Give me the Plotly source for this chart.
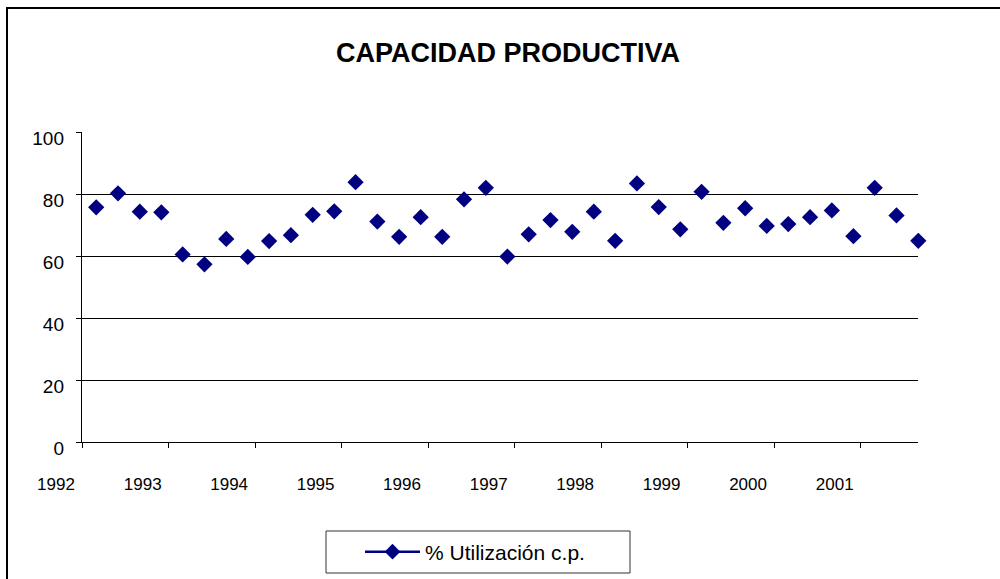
import plotly.graph_objects as go
import pandas as pd

# ---------------- data ----------------
periods = [
    "1992-03-01", "1992-06-01", "1992-09-01", "1992-12-01",
    "1993-03-01", "1993-06-01", "1993-09-01", "1993-12-01",
    "1994-03-01", "1994-06-01", "1994-09-01", "1994-12-01",
    "1995-03-01", "1995-06-01", "1995-09-01", "1995-12-01",
    "1996-03-01", "1996-06-01", "1996-09-01", "1996-12-01",
    "1997-03-01", "1997-06-01", "1997-09-01", "1997-12-01",
    "1998-03-01", "1998-06-01", "1998-09-01", "1998-12-01",
    "1999-03-01", "1999-06-01", "1999-09-01", "1999-12-01",
    "2000-03-01", "2000-06-01", "2000-09-01", "2000-12-01",
    "2001-03-01", "2001-06-01", "2001-09-01",
]
utilizacion = [
    75.8, 80.3, 74.4, 74.2,
    60.6, 57.4, 65.6, 59.8,
    64.9, 66.8, 73.4, 74.5,
    83.9, 71.2, 66.3, 72.6,
    66.3, 78.4, 82.1, 59.9,
    67.1, 71.7, 67.9, 74.4,
    65.0, 83.5, 75.9, 68.7,
    80.8, 70.8, 75.5, 69.8,
    70.4, 72.6, 74.8, 66.5,
    82.1, 73.2, 65.0,
]
year_ticks = ["1992", "1993", "1994", "1995", "1996", "1997", "1998", "1999", "2000", "2001"]
y_ticks = [0, 20, 40, 60, 80, 100]
grid_vals = [20, 40, 60, 80]
series_name = "% Utilización c.p."
title_text = "CAPACIDAD PRODUCTIVA"

# ---------------- layout geometry ----------------
W, H = 1000, 579
px_left, px_right = 82.0, 918.3
px_top, px_bottom = 132.3, 442.3
x_start = pd.Timestamp("1992-01-01")
x_end = pd.Timestamp("2001-09-01")
per_px = (x_end - x_start) / (px_right - px_left)
ext_start = x_start - per_px * px_left
label_shift = per_px * 26


def fmt(ts):
    return ts.strftime("%Y-%m-%d %H:%M:%S")


tick_dates = [fmt(pd.Timestamp(f"{y}-01-01")) for y in year_ticks]
label_dates = [fmt(pd.Timestamp(f"{y}-01-01") - label_shift) for y in year_ticks]

xdom = [px_left / W, px_right / W]
ydom = [1 - px_bottom / H, 1 - px_top / H]
lab_off = 6 / H
ydom_lab = [ydom[0] - lab_off, ydom[1] - lab_off]

NAVY = "#000080"
FONT = "Liberation Sans, Arial, sans-serif"
CLEAR = "rgba(0,0,0,0)"

fig = go.Figure()
fig.add_trace(go.Scatter(
    x=periods, y=utilizacion, mode="markers", name=series_name,
    marker=dict(symbol="diamond", size=12.5, color=NAVY),
    showlegend=False, xaxis="x", yaxis="y", cliponaxis=False,
))
# helper (empty) trace so the tick-mark axis is rendered
fig.add_trace(go.Scatter(
    x=[None], y=[None], mode="markers", showlegend=False,
    hoverinfo="skip", xaxis="x", yaxis="y2",
))
# legend entry (Excel style: line + marker)
fig.add_trace(go.Scatter(
    x=[None], y=[None], mode="lines+markers", name=series_name,
    line=dict(color=NAVY, width=2.5),
    marker=dict(symbol="diamond", size=12, color=NAVY),
    xaxis="x2", yaxis="y3", showlegend=True,
))

fig.update_layout(
    width=W, height=H,
    margin=dict(l=0, r=0, t=0, b=0, autoexpand=False),
    paper_bgcolor="white", plot_bgcolor=CLEAR,
    font=dict(family=FONT, color="black"),
    title=dict(text="<b>" + title_text + "</b>", x=0.508, xanchor="center",
               y=1 - 53 / H, yanchor="middle",
               font=dict(size=27, family=FONT, color="black")),
    showlegend=True,
    legend=dict(orientation="h", x=360 / W, xanchor="left",
                y=1 - 552 / H, yanchor="middle",
                borderwidth=0, bgcolor=CLEAR,
                font=dict(size=21, family=FONT, color="black"),
                itemwidth=55),
    xaxis=dict(domain=xdom, type="date", range=[fmt(x_start), fmt(x_end)],
               anchor="y", tickmode="array", tickvals=tick_dates,
               showticklabels=False, ticks="outside", ticklen=5,
               tickcolor="black", tickwidth=1,
               showline=True, linecolor="black", linewidth=1,
               showgrid=False, zeroline=False, automargin=False),
    xaxis2=dict(domain=[0, xdom[1]], type="date",
                range=[fmt(ext_start), fmt(x_end)], anchor="y",
                tickmode="array", tickvals=label_dates, ticktext=year_ticks,
                ticks="", showline=False, showgrid=False, zeroline=False,
                ticklabelstandoff=30, automargin=False,
                tickfont=dict(size=17, family=FONT, color="black")),
    yaxis=dict(domain=ydom, range=[0, 100], anchor="x",
               tickmode="array", tickvals=grid_vals, showticklabels=False,
               ticks="", showline=True, linecolor="black", linewidth=1,
               showgrid=True, gridcolor="black", gridwidth=1,
               zeroline=False, automargin=False),
    yaxis2=dict(overlaying="y", range=[0, 100], anchor="x", side="left",
                tickmode="array", tickvals=y_ticks, showticklabels=False,
                ticks="outside", ticklen=5, tickcolor="black", tickwidth=1,
                showline=False, showgrid=False, zeroline=False,
                automargin=False),
    yaxis3=dict(domain=ydom_lab, range=[0, 100], anchor="x",
                tickmode="array", tickvals=y_ticks,
                ticks="", showline=False, showgrid=False, zeroline=False,
                ticklabelstandoff=17, automargin=False,
                tickfont=dict(size=19, family=FONT, color="black")),
    shapes=[
        dict(type="rect", xref="paper", yref="paper",
             x0=7 / W, x1=1.01, y0=-0.02, y1=1 - 8 / H,
             line=dict(color="black", width=2), layer="below"),
        dict(type="rect", xref="paper", yref="paper",
             x0=326 / W, x1=630 / W, y0=1 - 573 / H, y1=1 - 531 / H,
             line=dict(color="#333333", width=1), fillcolor="white",
             layer="below"),
    ],
)

fig.write_html("out.html", config={"displayModeBar": False},
               post_script="document.body.style.margin='0';")
